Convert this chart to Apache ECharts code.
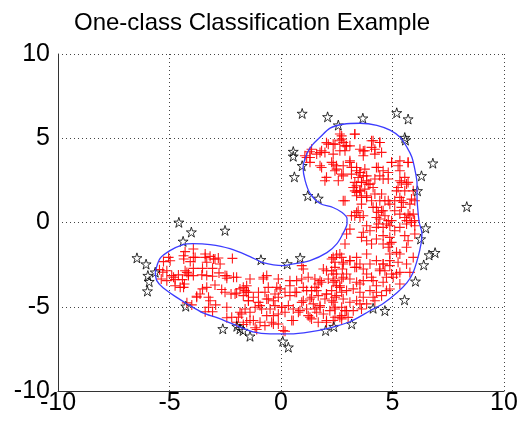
<!DOCTYPE html>
<html>
<head>
<meta charset="utf-8">
<script src="https://cdn.jsdelivr.net/npm/echarts@6/dist/echarts.min.js"></script>
<style>
  html, body { margin: 0; padding: 0; background: #fff; }
  #chart { width: 523px; height: 427px; }
</style>
</head>
<body>
<div id="chart"></div>
<script>
const titleText = 'One-class Classification Example';
const axisTicks = [-10, -5, 0, 5, 10];

// target class (red +)
const inliers = [
  [-3.93,-1.57],[-4.30,-1.73],[-4.36,-2.17],[-3.85,-2.07],[-4.07,-2.32],[-3.40,-2.07],[-3.18,-2.01],
  [-2.96,-2.17],[-3.33,-2.36],[-2.81,-2.11],[-2.18,-2.13],[-3.07,-2.72],[-3.52,-2.72],[-3.93,-2.72],
  [-5.04,-2.07],[-5.27,-2.32],[-4.90,-3.15],[-4.60,-3.11],[-4.22,-2.96],[-4.15,-3.15],[-5.37,-3.35],
  [-5.12,-3.45],[-4.75,-3.39],[-4.42,-3.39],[-3.93,-3.15],[-3.55,-3.11],[-3.33,-3.15],[-3.07,-3.19],
  [-2.78,-2.99],[-2.51,-3.15],[-2.13,-3.25],[-2.43,-3.31],[-4.75,-3.75],[-4.37,-3.85],[-4.33,-3.65],
  [-3.33,-3.85],[-3.52,-3.94],[-2.96,-3.71],[-2.66,-3.98],[-2.51,-4.14],[-2.24,-4.24],[-1.99,-4.18],
  [-3.63,-4.24],[-3.78,-4.38],[-3.25,-4.44],[-4.00,-4.89],[-4.22,-4.77],[-2.93,-4.89],[-3.25,-5.03],
  [-3.40,-5.30],[-3.07,-5.30],[-2.43,-5.65],[-2.21,-5.62],[-5.45,-2.80],[-5.30,-2.95],
  [2.27,-2.17],[2.49,-1.93],[2.72,-2.07],[2.79,-2.46],[2.42,-2.66],[2.04,-2.86],[1.90,-2.76],
  [2.34,-3.06],[2.75,-2.76],[2.72,-3.35],[2.42,-3.45],[2.12,-3.35],[1.82,-3.55],[1.67,-3.65],
  [2.49,-3.75],[2.27,-4.04],[2.04,-4.24],[2.72,-4.14],[2.42,-4.44],[1.97,-4.54],[1.67,-4.34],
  [1.75,-4.93],[1.52,-5.13],[1.60,-5.33],[1.90,-5.43],[2.19,-5.23],[2.42,-5.13],[2.72,-5.03],
  [2.72,-5.53],[2.42,-5.62],[2.04,-5.92],[1.67,-5.92],[1.37,-5.72],[1.22,-5.53],[1.15,-5.13],
  [1.30,-4.54],[0.93,-4.74],[0.78,-5.33],[0.55,-5.13],[0.48,-5.82],[0.18,-5.33],[0.33,-4.93],
  [0.03,-5.03],[-0.12,-5.43],[-0.34,-5.53],[-0.49,-5.13],[-0.64,-5.53],[-0.87,-5.13],[-1.01,-4.74],
  [-1.16,-5.03],[-1.39,-5.33],[-1.61,-5.13],[-1.76,-5.43],[-1.91,-5.62],[-1.99,-5.92],[-1.54,-5.92],
  [-1.24,-5.82],[-0.94,-5.92],[-0.72,-6.12],[-0.42,-5.92],[-0.12,-6.02],[0.18,-6.45],[-1.16,-6.25],
  [-1.69,-6.05],[0.93,-2.56],[1.00,-2.76],[-0.12,-3.35],[-0.19,-3.85],[-0.64,-3.15],[-0.79,-3.35],
  [-0.57,-3.85],[-0.72,-4.14],[-1.01,-4.14],[-1.24,-4.44],[-1.46,-4.14],[-1.54,-3.75],[-1.61,-4.04],
  [-1.69,-4.34],[-1.46,-4.64],[-1.84,-3.94],[-1.99,-3.25],[-1.39,-3.35],[-0.04,-3.94],[0.18,-4.14],
  [0.40,-4.34],[-0.12,-4.44],[-0.34,-4.64],[-0.57,-4.54],[-0.27,-4.93],[0.40,-3.75],[0.63,-4.14],
  [1.00,-3.85],[1.15,-4.04],[1.37,-4.04],[1.52,-3.85],[1.52,-3.35],[1.22,-3.25],[0.93,-3.35],
  [0.70,-3.45],
  [-3.40,-1.87],[-3.03,-2.17],[-4.30,-2.86],[-4.15,-3.06],[-2.43,-3.16],[-2.73,-2.46],[-1.69,-3.85],
  [-1.54,-4.14],[-1.46,-4.64],[-0.94,-4.93],[-0.64,-4.54],[-0.79,-3.25],[0.40,-3.45],[0.70,-4.14],
  [1.00,-4.64],[1.45,-4.83],[1.60,-4.04],[1.75,-5.03],[1.75,-3.45],[2.04,-4.24],[2.34,-4.73],
  [2.64,-3.85],[2.94,-3.06],[3.09,-2.26],[3.39,-2.66],[3.84,-1.87],[4.43,-2.86],[4.58,-2.46],
  [4.88,-2.26],[5.03,-3.25],[4.73,-4.04],[4.13,-4.44],[3.54,-4.83],[2.94,-5.23],[2.64,-5.62],
  [2.04,-5.82],[1.30,-5.62],[0.55,-5.82],[0.10,-6.41],[-0.34,-6.02],[-1.09,-6.35],[-1.39,-5.82],
  [-1.84,-5.33],[-2.43,-5.03],[-3.18,-4.64],[-3.78,-4.44],[-4.52,-3.85],[-4.82,-3.25],[-5.12,-2.86],
  [-4.97,-2.27],[-4.37,-1.97],[-3.93,-2.07],[-2.06,-4.24],[-0.27,-4.24],[0.03,-5.03],[0.85,-5.23],
  [1.37,-4.44],[3.54,-3.65],[4.13,-3.45],[5.33,-1.87],[4.88,-1.28],[5.18,-3.06],
  [3.31,0.40],[3.54,0.30],[4.36,0.60],[4.66,0.40],[4.43,0.21],[4.81,0.11],[5.33,0.50],
  [5.55,0.30],[5.78,0.40],[5.85,0.01],[6.00,-0.19],[5.63,-0.09],[5.33,-0.29],[5.10,-0.49],
  [4.88,-0.19],[4.58,-0.29],[4.28,-0.29],[3.99,-0.49],[3.69,-0.58],[3.61,-0.88],[3.84,-1.08],
  [4.06,-1.28],[4.28,-0.98],[4.58,-0.78],[4.88,-0.88],[4.96,-1.18],[4.81,-1.47],[4.58,-1.28],
  [5.55,-0.78],[5.70,-1.08],[6.00,-0.68],[5.63,-1.47],[5.18,-1.77],[4.88,-1.87],[3.09,-0.39],
  [2.94,-0.68],[2.87,-1.28],[2.64,-1.87],[2.34,-2.07],[2.42,-2.36],[2.79,-2.36],[3.09,-2.26],
  [3.39,-2.07],[3.54,-2.46],[3.31,-2.66],[3.69,-2.76],[3.99,-2.46],[4.28,-2.26],[4.58,-2.46],
  [4.43,-2.76],[4.66,-2.86],[4.88,-2.56],[4.96,-3.06],[4.73,-3.25],[4.58,-3.55],[4.28,-3.75],
  [4.06,-3.25],[3.84,-3.06],[3.69,-3.45],[3.39,-3.55],[3.09,-3.35],[2.79,-3.25],[2.49,-3.06],
  [2.27,-2.86],[2.34,-3.55],[2.64,-3.75],[2.94,-4.04],[3.24,-3.94],[3.54,-4.14],[3.69,-4.44],
  [3.99,-4.04],[4.28,-4.14],[4.51,-4.34],[4.21,-4.64],[3.84,-4.83],[3.39,-4.64],[3.09,-4.73],
  [2.79,-4.54],[2.49,-4.34],[2.27,-4.64],[2.42,-5.03],[2.87,-5.23],[3.24,-5.23],[3.61,-5.13],
  [3.01,-5.63],[2.72,-5.72],[2.34,-5.82],[4.88,-3.95],[5.33,-3.65],[5.78,-2.96],[5.93,-2.07],
  [5.63,-2.46],[5.25,-2.36],[5.33,-2.96],
  [2.64,5.25],[3.31,5.25],[2.72,4.95],[2.79,4.75],[2.12,4.65],[2.42,4.65],[2.87,4.55],
  [3.09,4.55],[1.82,4.26],[1.60,4.06],[1.97,4.16],[2.34,4.06],[2.64,4.26],[2.87,4.26],
  [3.76,4.26],[4.13,4.85],[4.06,4.46],[4.43,4.75],[4.51,4.16],[4.21,4.06],[3.69,3.96],
  [1.15,3.86],[1.30,3.57],[1.75,3.37],[2.27,3.57],[2.49,3.37],[2.42,3.07],[2.72,2.87],
  [2.79,2.77],[2.04,2.68],[1.97,2.48],[2.57,2.48],[3.09,3.66],[3.16,3.27],[3.39,3.07],
  [3.54,2.97],[3.76,3.17],[3.84,2.77],[3.61,2.38],[3.31,2.38],[3.24,2.08],[3.39,1.79],
  [3.54,1.88],[3.91,2.28],[4.21,2.58],[4.28,3.27],[4.58,3.07],[4.81,2.58],[4.96,3.57],
  [5.25,3.37],[5.33,3.07],[5.70,3.57],[5.55,2.68],[5.40,2.38],[5.70,2.38],[5.25,2.08],
  [5.55,1.88],[5.93,1.88],[5.85,1.39],[6.00,1.29],[5.40,1.29],[5.10,1.29],[4.66,1.29],
  [4.51,1.69],[4.21,1.69],[4.06,1.29],[3.84,1.49],[3.61,1.09],[4.28,0.90],[4.51,0.70],
  [4.88,1.09],[5.10,0.70],[5.40,0.90],[5.70,0.50],[5.93,0.50],[3.39,0.60],[3.16,0.40],
  [2.87,1.29],[1.07,3.96],[1.30,4.20],
  [2.72,5.14],[2.64,4.85],[3.31,5.24],[2.04,4.74],[2.34,4.65],[2.94,4.55],[3.54,4.35],
  [3.69,4.25],[4.06,4.85],[4.43,4.75],[4.21,4.35],[1.75,4.15],[1.37,4.35],[1.30,3.86],
  [1.82,3.26],[2.34,3.46],[2.49,3.17],[2.79,3.37],[3.09,3.56],[3.16,2.87],[3.39,3.26],
  [3.54,2.97],[3.46,2.67],[3.69,2.77],[3.84,2.48],[3.99,2.28],[3.61,2.38],[3.39,2.18],
  [3.31,1.88],[3.54,1.88],[3.76,1.98],[3.39,1.59],[3.61,1.49],[3.84,1.59],[4.13,2.08],
  [4.36,3.26],[4.43,2.77],[4.58,2.58],[4.81,2.97],[4.96,3.56],[5.33,3.66],[5.70,3.56],
  [5.33,2.48],[5.63,2.28],[5.18,1.88],[5.33,1.49],[5.48,1.19],[5.78,1.09],[4.43,1.29],
  [4.13,0.90],[4.58,0.70],[4.81,1.29],[2.79,1.29],[3.46,0.70],[3.69,0.40],[4.28,0.30],
  [4.96,0.11],[5.63,0.11],[5.99,0.11],[4.73,-0.09],[4.36,-0.09],[3.84,-0.19]
];

// outliers (black pentagrams)
const outliers = [
  [0.95,6.47],[2.09,6.27],[2.57,5.78],[3.67,6.19],[5.19,6.51],[5.70,6.14],[5.55,5.04],[5.58,4.89],
  [0.55,4.21],[0.55,3.93],[0.95,3.37],[0.60,2.71],[6.81,3.52],[6.30,2.77],[6.12,1.88],[1.20,1.59],
  [1.67,1.43],[8.33,0.94],[6.49,-0.33],[6.26,-0.98],[6.64,-1.93],[6.91,-1.79],[6.40,-2.52],[6.03,-3.49],
  [5.54,-4.59],[4.13,-5.09],[4.66,-5.23],[3.17,-6.02],[2.37,-6.18],[2.00,-6.41],[0.33,-7.40],[0.08,-7.05],
  [-0.90,-2.21],[0.28,-2.46],[0.86,-2.10],[-1.39,-6.75],[-1.84,-6.31],[-1.98,-6.16],[-1.70,-6.41],[-2.61,-6.31],
  [-4.27,-4.97],[-4.02,-0.57],[-2.51,-0.47],[-4.58,0.01],[-4.39,-1.12],[-6.46,-2.10],[-6.05,-2.47],[-5.64,-2.95],
  [-5.97,-3.15],[-5.91,-3.51],[-5.99,-4.07]
];

// decision boundary (blue)
const boundary = [
  [-5.64,-2.96],[-5.43,-2.14],[-4.98,-1.67],[-4.39,-1.31],[-3.95,-1.25],[-3.18,-1.31],[-2.29,-1.55],
  [-1.39,-2.02],[-0.81,-2.38],[0.09,-2.56],[0.40,-2.50],[1.30,-2.26],[2.06,-1.79],[2.51,-1.25],
  [2.78,-0.65],[2.96,-0.06],[2.96,0.24],[2.74,0.60],[2.33,0.89],[1.75,1.13],[1.30,1.73],[1.08,2.50],
  [0.99,3.27],[1.17,4.11],[1.39,4.58],[1.75,5.06],[2.20,5.60],[2.78,5.83],[3.54,5.89],[4.30,5.77],
  [4.89,5.48],[5.34,5.06],[5.65,4.46],[5.87,3.87],[6.01,3.10],[6.10,2.32],[6.10,1.49],[6.14,0.71],
  [6.20,0.00],[6.32,-0.65],[6.28,-1.25],[6.14,-2.08],[5.92,-2.98],[5.65,-3.57],[5.20,-4.17],[4.57,-4.82],
  [3.99,-5.24],[3.09,-5.89],[2.20,-6.25],[1.30,-6.49],[0.40,-6.61],[-0.49,-6.61],[-1.26,-6.49],
  [-1.97,-6.13],[-2.87,-5.65],[-3.50,-5.36],[-4.22,-4.82],[-4.66,-4.46],[-5.29,-3.87],[-5.57,-3.45],
  [-5.64,-2.96]
];

const plusPath = 'path://M4,0h1v4h4v1h-4v4h-1v-4h-4v-1h4z';
const starPath = 'path://M10,0L12.24,6.91L19.51,6.91L13.63,11.18L15.88,18.09L10,13.82L4.12,18.09L6.37,11.18L0.49,6.91L7.76,6.91Z';

const font = 'Liberation Sans, Arial, Helvetica, sans-serif';

const axisCommon = {
    type: 'value',
    min: axisTicks[0],
    max: axisTicks[axisTicks.length - 1],
    interval: 5,
    axisLine: { show: true, onZero: false, lineStyle: { color: '#333', width: 1 } },
    axisTick: { show: false },
    splitLine: { show: true, lineStyle: { color: '#444', width: 1, type: [1, 3] } },
};

const chart = echarts.init(document.getElementById('chart'));
chart.setOption({
    animation: false,
    backgroundColor: '#fff',
    title: {
        text: titleText,
        left: 69,
        top: 6,
        textStyle: { fontFamily: font, fontSize: 24, fontWeight: 'normal', color: '#000' },
    },
    grid: { left: 58, right: 19, top: 54, bottom: 36 },
    xAxis: {
        ...axisCommon,
        axisLabel: { fontFamily: font, fontSize: 25, color: '#000', margin: 0 },
    },
    yAxis: {
        ...axisCommon,
        axisLabel: { fontFamily: font, fontSize: 25, color: '#000', margin: 8 },
    },
    series: [
        {
            type: 'scatter',
            data: inliers,
            symbol: plusPath,
            symbolSize: 10,
            itemStyle: { color: '#ff0000', opacity: 0.9 },
        },
        {
            type: 'scatter',
            data: outliers,
            symbol: starPath,
            symbolSize: 10,
            itemStyle: { color: 'rgba(0,0,0,0)', borderColor: '#000', borderWidth: 1 },
        },
        {
            type: 'line',
            data: boundary,
            showSymbol: false,
            smooth: 0.3,
            lineStyle: { color: '#3c3cff', width: 1.3 },
        },
    ],
});
</script>
</body>
</html>
